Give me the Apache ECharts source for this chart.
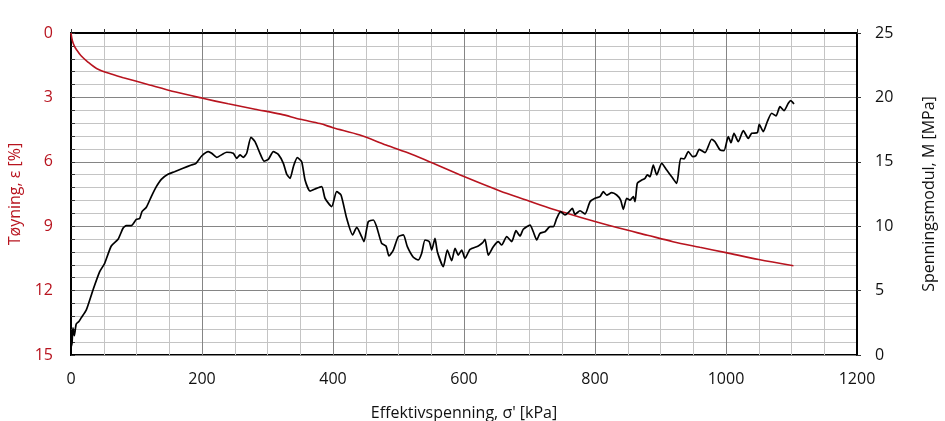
<!DOCTYPE html>
<html>
<head>
<meta charset="utf-8">
<title>Ødometer</title>
<script src="https://cdn.jsdelivr.net/npm/echarts@6/dist/echarts.min.js"></script>
<style>
  html, body { margin: 0; padding: 0; background: #fff; }
  #chart { width: 945px; height: 421px; }
</style>
</head>
<body>
<div id="chart"></div>
<script>
// tøyning (rød kurve)
var strainStress = [0, 2, 5, 8.7, 15, 25, 39, 60, 80, 120, 160, 201, 240, 281, 320, 350, 380, 400, 441, 481, 520, 553, 600, 655, 695, 736, 757, 800, 838, 880, 919, 960, 1000, 1050, 1103];
var strainValues = [0, 0.35, 0.6, 0.79, 1.05, 1.33, 1.65, 1.9, 2.08, 2.42, 2.75, 3.04, 3.3, 3.55, 3.78, 4.02, 4.22, 4.41, 4.75, 5.22, 5.65, 6.07, 6.69, 7.36, 7.78, 8.21, 8.4, 8.78, 9.1, 9.42, 9.72, 9.98, 10.23, 10.55, 10.84];

// spenningsmodul (svart kurve)
var modStress = [0, 1.5, 3, 5, 8, 12, 15.8, 23.4, 33.6, 43.8, 51.4, 61.5, 71.8, 79.4, 84.5, 92, 99.7, 104.8, 108.4, 115,
  122.6, 130.3, 137.9, 148, 158, 171, 183.7, 190.8, 199.5, 209.6, 214.8, 222.4, 237.7, 247.8, 252.9, 258, 263, 268.2, 274.8, 280.9,
  288.5, 294.7, 301.3, 308.9, 316.5, 324.2, 329.3, 334.4, 339.5, 345.5, 352.2, 357.3, 364.9, 372.5, 382.7, 387.8, 398, 405.6, 412.2, 420.9,
  430, 436.2, 443.7, 447.3, 453.9, 461.5, 466.6, 474.3, 480.9, 485.5, 492.1, 499.7, 507.4, 513.5, 522.6, 530.3, 535.4, 540.5, 547, 550.7,
  555.7, 559.3, 568.4, 574.5, 581.2, 586.3, 591.3, 596.5, 601.5, 609.2, 621.8, 628.5, 632, 637.1, 644.7, 652.4, 657.5, 665.2, 672.8, 679.4,
  685.5, 690.5, 700.8, 705.8, 711, 716, 723.7, 731.3, 736.3, 741.5, 747.6, 754.2, 759.2, 765.4, 769.5, 777.1, 784.7, 792.4, 800, 807.6,
  812.7, 817.9, 825.5, 833.1, 839.2, 843.2, 848.4, 853.4, 858.5, 861.1, 864.6, 869.8, 876.3, 879.9, 884, 889, 894.2, 901.8, 909.5, 917.1,
  924.7, 930.8, 935.9, 942.5, 949.2, 954.2, 959.2, 967.9, 978.2, 983.2, 990.8, 996.9, 1003.5, 1007.6, 1012.2, 1018.8, 1026.4, 1034, 1039.2, 1047.8,
  1050.8, 1056.9, 1063, 1069.8, 1076.3, 1082.4, 1088.5, 1095.1, 1098.8, 1103.8];
var modValues = [0.6, 0.9, 2.1, 1.5, 2.4, 2.6, 2.9, 3.5, 5.05, 6.47, 7.12, 8.46, 8.98, 9.84, 10.04, 10.04, 10.53, 10.6, 11.13, 11.47,
  12.3, 13.07, 13.64, 14.03, 14.23, 14.5, 14.75, 14.88, 15.45, 15.79, 15.66, 15.35, 15.74, 15.66, 15.27, 15.53, 15.35, 15.66, 16.9, 16.56,
  15.66, 15.06, 15.19, 15.79, 15.58, 14.88, 14.05, 13.72, 14.62, 15.32, 15.01, 13.59, 12.73, 12.89, 13.07, 12.17, 11.52, 12.68, 12.42, 10.61,
  9.32, 9.91, 9.19, 8.8, 10.35, 10.48, 9.96, 8.67, 8.46, 7.69, 8.15, 9.19, 9.32, 8.41, 7.59, 7.38, 7.9, 8.93, 8.8, 8.15,
  9.06, 8.02, 6.86, 8.15, 7.32, 8.28, 7.76, 8.15, 7.5, 8.2, 8.46, 8.72, 8.98, 7.76, 8.41, 8.8, 8.54, 9.19, 8.8, 9.65,
  9.24, 9.76, 10.09, 9.57, 8.93, 9.45, 9.57, 9.96, 9.96, 10.61, 11.13, 10.87, 11.05, 11.39, 10.92, 11.2, 10.95, 11.9, 12.17, 12.29,
  12.68, 12.42, 12.6, 12.42, 12.03, 11.31, 12.17, 12.03, 12.29, 11.9, 13.33, 13.53, 13.72, 13.98, 13.84, 14.75, 13.98, 14.88, 14.36, 13.84,
  13.33, 15.27, 15.22, 15.79, 15.4, 15.48, 15.97, 15.71, 16.75, 16.56, 15.92, 15.86, 16.95, 16.48, 17.21, 16.56, 17.42, 16.82, 17.21, 17.26,
  17.91, 17.34, 18.11, 18.77, 18.56, 19.28, 18.97, 19.54, 19.75, 19.49];

function pairs(xs, ys) {
  var out = [];
  for (var i = 0; i < xs.length; i++) out.push([xs[i], ys[i]]);
  return out;
}
function plain(v) { return String(v); }

var red = '#b8141f';
var font = '"Open Sans", "DejaVu Sans", sans-serif';

var chart = echarts.init(document.getElementById('chart'));
var option = {
  animation: false,
  textStyle: { fontFamily: font },
  grid: { left: 71, right: 88, top: 33, bottom: 66, show: true, borderColor: '#000', borderWidth: 2,
          outerBoundsMode: 'none', containLabel: false },
  xAxis: {
    type: 'value', min: 0, max: 1200, interval: 200,
    name: "Effektivspenning, σ' [kPa]", nameLocation: 'middle', nameGap: 50,
    nameTextStyle: { color: '#111', fontSize: 16, fontFamily: font },
    axisLine: { lineStyle: { color: '#000', width: 2 } },
    axisTick: { inside: true, length: 4, lineStyle: { color: '#333' } },
    minorTick: { show: true, splitNumber: 4, length: 4, lineStyle: { color: '#333' } },
    axisLabel: { color: '#111', fontSize: 16, margin: 16, fontFamily: font, formatter: plain },
    splitLine: { show: true, lineStyle: { color: '#858585', width: 1 } },
    minorSplitLine: { show: true, lineStyle: { color: '#c4c4c4', width: 1 } }
  },
  yAxis: [{
    type: 'value', min: 0, max: 15, interval: 3, inverse: true,
    name: 'Tøyning, ε [%]', nameLocation: 'middle', nameGap: 41, nameRotate: 90,
    nameTextStyle: { color: red, fontSize: 16, fontFamily: font },
    axisLine: { lineStyle: { color: '#000', width: 2 } },
    axisTick: { inside: true, length: 4, lineStyle: { color: '#333' } },
    minorTick: { show: true, splitNumber: 5, length: 4, lineStyle: { color: '#333' } },
    axisLabel: { color: red, fontSize: 16, margin: 18, fontFamily: font, formatter: plain },
    splitLine: { show: true, lineStyle: { color: '#858585', width: 1 } },
    minorSplitLine: { show: true, lineStyle: { color: '#c4c4c4', width: 1 } }
  }, {
    type: 'value', min: 0, max: 25, interval: 5, position: 'right',
    name: 'Spenningsmodul, M [MPa]', nameLocation: 'middle', nameGap: 64, nameRotate: 90,
    nameTextStyle: { color: '#111', fontSize: 16, fontFamily: font },
    axisLine: { show: true, lineStyle: { color: '#000', width: 2 } },
    axisTick: { show: true, length: 4, lineStyle: { color: '#333' } },
    axisLabel: { color: '#111', fontSize: 16, margin: 18, fontFamily: font, formatter: plain },
    splitLine: { show: false }
  }],
  series: [{
    name: 'Tøyning', type: 'line', yAxisIndex: 0, showSymbol: false, smooth: 0.3,
    lineStyle: { color: red, width: 1.6 },
    data: pairs(strainStress, strainValues)
  }, {
    name: 'Spenningsmodul', type: 'line', yAxisIndex: 1, showSymbol: false, smooth: 0.2,
    lineStyle: { color: '#000', width: 1.7 },
    data: pairs(modStress, modValues)
  }]
};
chart.setOption(option);
</script>
</body>
</html>
